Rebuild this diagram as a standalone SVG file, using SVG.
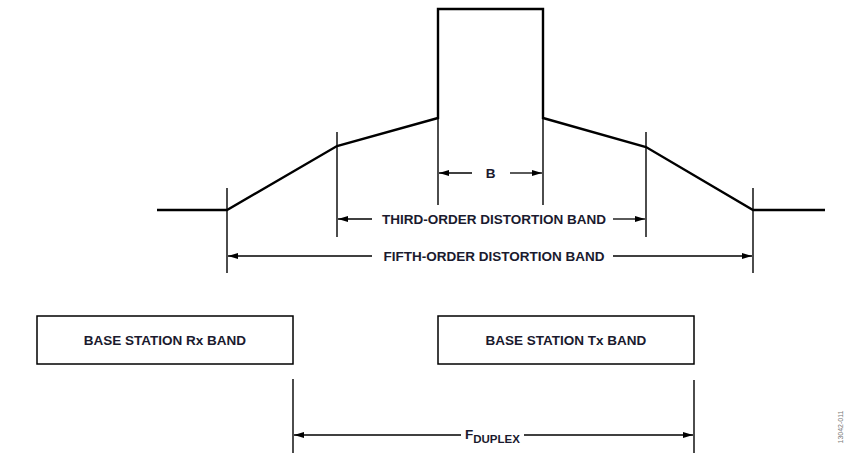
<svg xmlns="http://www.w3.org/2000/svg" width="859" height="457" viewBox="0 0 859 457">
<defs>
<marker id="ah" viewBox="0 0 10 6" refX="10" refY="3" markerWidth="10" markerHeight="6" markerUnits="userSpaceOnUse" orient="auto-start-reverse">
<path d="M0,0 L10,3 L0,6 Z" fill="#000"/>
</marker>
</defs>
<style>
.spec{fill:none;stroke:#000;stroke-width:2.4;stroke-linejoin:miter}
.tick{stroke:#000;stroke-width:1.4;fill:none}
.dim{stroke:#000;stroke-width:1.3;fill:none}
.box{fill:#fff;stroke:#000;stroke-width:1.5}
.lbl{font-family:"Liberation Sans",Arial,sans-serif;font-weight:bold;font-size:13.5px;fill:#1a1a2e}
.sub{font-size:11.5px}
.code{font-family:"Liberation Sans",Arial,sans-serif;font-size:7px;fill:#777}
</style>
<g id="spectrum">
<polyline class="spec" points="157,210 227,210 337,146 438,118 438,9 543,9 543,118 646,147 753,210 825,210"/>
</g>
<g id="ticks">
<line class="tick" x1="227" y1="188" x2="227" y2="273"/>
<line class="tick" x1="337" y1="132" x2="337" y2="237"/>
<line class="tick" x1="438" y1="118" x2="438" y2="205"/>
<line class="tick" x1="543" y1="118" x2="543" y2="205"/>
<line class="tick" x1="646" y1="132" x2="646" y2="237"/>
<line class="tick" x1="753" y1="188" x2="753" y2="273"/>
<line class="tick" x1="293" y1="379" x2="293" y2="453"/>
<line class="tick" x1="694" y1="380" x2="694" y2="453"/>
</g>
<g id="connectors">
<line class="dim" x1="472" y1="173" x2="439" y2="173" marker-end="url(#ah)"/>
<line class="dim" x1="510" y1="173" x2="542" y2="173" marker-end="url(#ah)"/>
<line class="dim" x1="372" y1="219" x2="338" y2="219" marker-end="url(#ah)"/>
<line class="dim" x1="613" y1="219" x2="645" y2="219" marker-end="url(#ah)"/>
<line class="dim" x1="372" y1="256" x2="228" y2="256" marker-end="url(#ah)"/>
<line class="dim" x1="613" y1="256" x2="752" y2="256" marker-end="url(#ah)"/>
<line class="dim" x1="461" y1="435" x2="294" y2="435" marker-end="url(#ah)"/>
<line class="dim" x1="524" y1="435" x2="693" y2="435" marker-end="url(#ah)"/>
</g>
<g id="label-b"><text class="lbl" x="490.5" y="178" text-anchor="middle">B</text></g>
<g id="label-third"><text class="lbl" x="494" y="224" text-anchor="middle">THIRD-ORDER DISTORTION BAND</text></g>
<g id="label-fifth"><text class="lbl" x="494" y="261" text-anchor="middle">FIFTH-ORDER DISTORTION BAND</text></g>
<g id="rx-band">
<rect class="box" x="37" y="316" width="256" height="48"/>
<text class="lbl" x="165" y="345" text-anchor="middle">BASE STATION Rx BAND</text>
</g>
<g id="tx-band">
<rect class="box" x="438" y="316" width="256" height="48"/>
<text class="lbl" x="566" y="345" text-anchor="middle">BASE STATION Tx BAND</text>
</g>
<g id="label-fduplex"><text class="lbl" x="465" y="439">F<tspan class="sub" dy="4">DUPLEX</tspan></text></g>
<g id="code"><text class="code" x="0" y="0" text-anchor="middle" transform="translate(843,427) rotate(-90)">13042-011</text></g>
</svg>
